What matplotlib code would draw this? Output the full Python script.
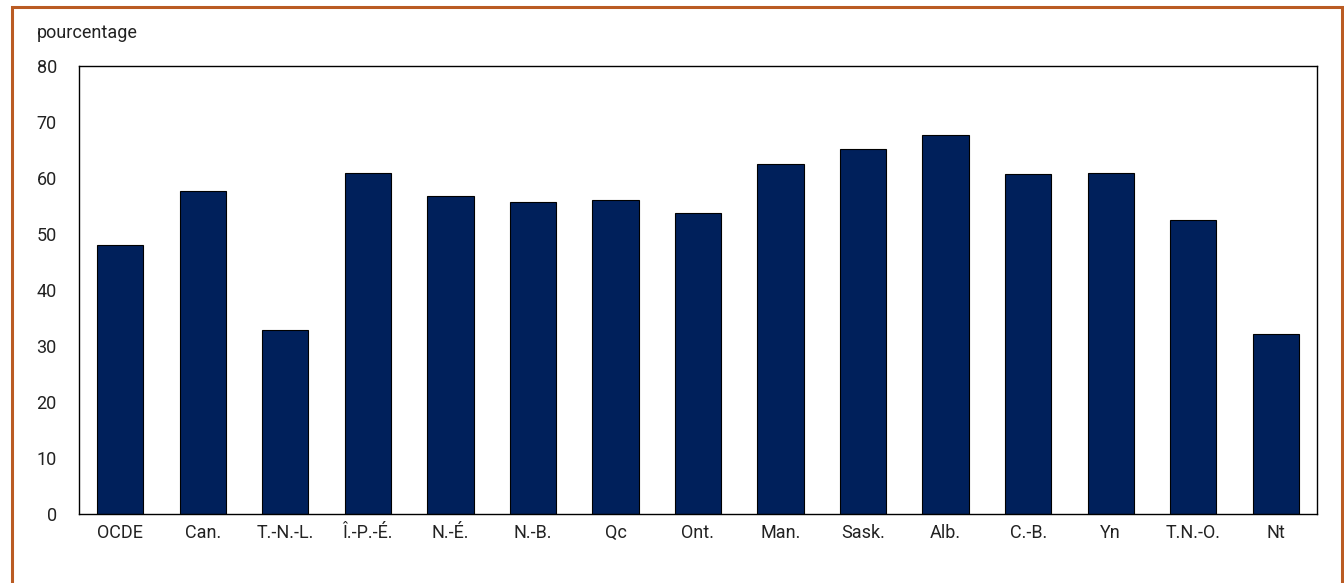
import matplotlib
matplotlib.use("Agg")
import matplotlib.pyplot as plt
from matplotlib.patches import Rectangle
from matplotlib import font_manager

categories = ["OCDE", "Can.", "T.-N.-L.", "Î.-P.-É.", "N.-É.", "N.-B.", "Qc", "Ont.",
              "Man.", "Sask.", "Alb.", "C.-B.", "Yn", "T.N.-O.", "Nt"]
values = [48.1, 57.7, 32.9, 60.9, 56.7, 55.7, 56.0, 53.7, 62.5, 65.1, 67.6, 60.6, 60.8, 52.5, 32.2]
yticks = [0, 10, 20, 30, 40, 50, 60, 70, 80]

names = {f.name for f in font_manager.fontManager.ttflist}
fam = "Liberation Sans Narrow" if "Liberation Sans Narrow" in names else "Roboto"
plt.rcParams["font.family"] = [fam, "DejaVu Sans"]

W, H = 1344, 583
fig = plt.figure(figsize=(W / 100, H / 100), dpi=100)
ax = fig.add_axes([79 / W, 1 - 514.3 / H, (1317 - 79) / W, (514.3 - 65.7) / H])

x = list(range(len(categories)))
ax.bar(x, values, width=0.56, color="#00205B", edgecolor="black", linewidth=0.8)
ax.set_xlim(-0.5, len(categories) - 0.5)
ax.set_ylim(0, 80)
ax.set_yticks(yticks)
ax.set_yticklabels([str(t) for t in yticks])
ax.set_xticks(x)
ax.set_xticklabels(categories)
ax.tick_params(axis="y", length=0, pad=16, labelsize=13, colors="#222222")
ax.tick_params(axis="x", length=0, pad=7, labelsize=13, colors="#222222")
for s in ax.spines.values():
    s.set_color("black")
    s.set_linewidth(1.0)

fig.text(37 / W, 1 - 33 / H, "pourcentage", ha="left", va="center", fontsize=13, color="#222222")

border = Rectangle((12 / W, -0.05), (1342 - 12) / W, (1 - 7.5 / H) + 0.05,
                   transform=fig.transFigure, fill=False, edgecolor="#BA5B23",
                   linewidth=2.2, clip_on=False)
fig.patches.append(border)

fig.savefig("out.png", dpi=100)
